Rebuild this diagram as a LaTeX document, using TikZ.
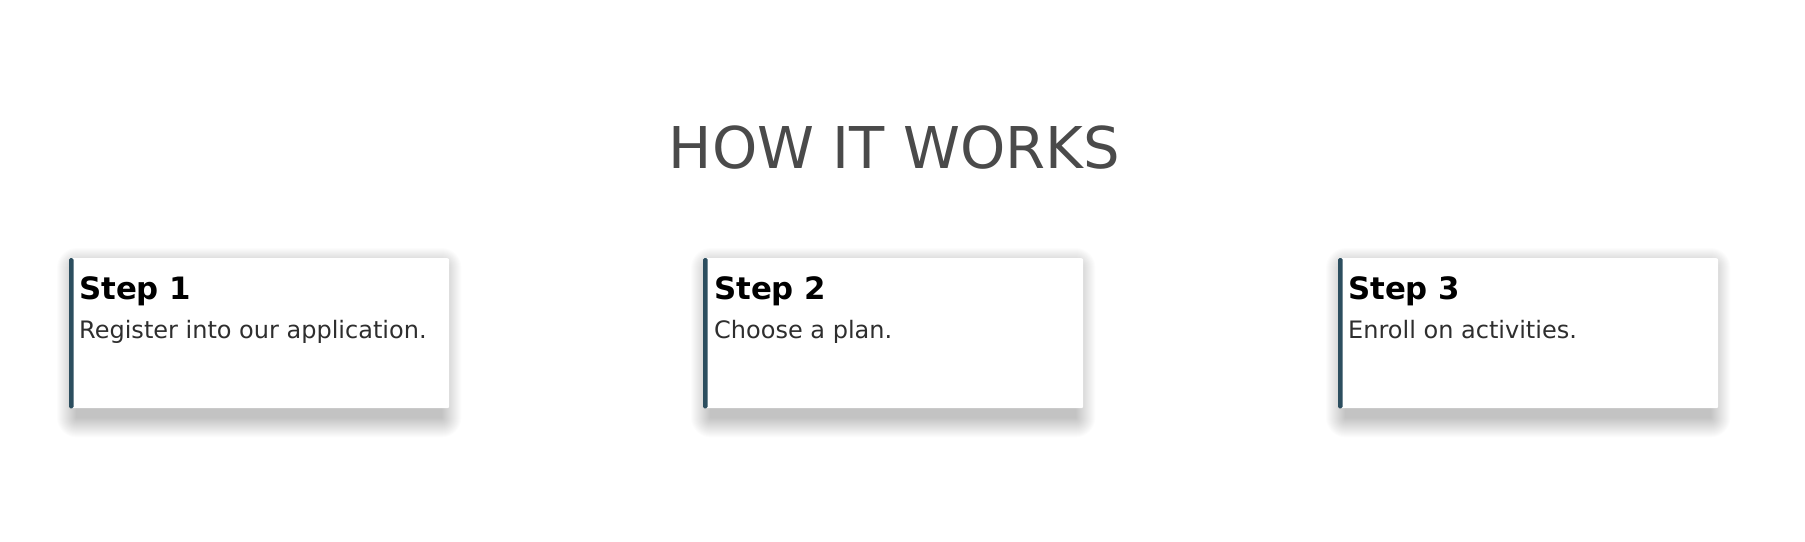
\documentclass[tikz,border=0pt]{standalone}
\usepackage{fontspec}
\setmainfont{DejaVu Sans}
\usetikzlibrary{calc, backgrounds}
\definecolor{cardbar}{HTML}{2C4E5F}
\definecolor{headgrey}{HTML}{4A4A4A}
\definecolor{bodygrey}{HTML}{2E2E2E}

\begin{document}
\begin{tikzpicture}[x=1pt, y=-1pt]
				\useasboundingbox (0,0) rectangle (1805,541);
				\begin{scope}[card/.style={fill=white,rectangle,rounded corners=2pt,minimum width=380pt,minimum height=150pt,inner sep=0,anchor=north west},
					steptitle/.style={inner sep=0,anchor=base west,font=\fontsize{30.8}{32}\selectfont\bfseries},
					steptext/.style={inner sep=0,anchor=base west,text=bodygrey,font=\fontsize{24}{26}\selectfont}]
				\node[inner sep=0, anchor=base, text=headgrey, font=\fontsize{57.6}{60}\selectfont] (title) at (894.5,168) {HOW IT WORKS};
				
				\node[card] (card1) at (69,258) {};
				\node[card] (card2) at (703,258) {};
				\node[card] (card3) at (1338,258) {};
				
				% white page, then soft shadows under the cards
				\begin{scope}[on background layer]
				\fill[white] (0,0) rectangle (1805,541);
				\foreach \c in {card1,card2,card3}
				\foreach \k in {1,...,20}
				\fill[black, opacity=0.013, rounded corners=\k pt] ($(\c.north west)+(8-\k,10-\k)$) rectangle ($(\c.south east)+(\k-8,9+\k)$);
				\end{scope}
				
				\fill[cardbar, rounded corners=1.5pt] (card1.north west) rectangle ($(card1.south west)+(4.5,0)$);
				\fill[cardbar, rounded corners=1.5pt] (card2.north west) rectangle ($(card2.south west)+(4.5,0)$);
				\fill[cardbar, rounded corners=1.5pt] (card3.north west) rectangle ($(card3.south west)+(4.5,0)$);
				
				\node[steptitle] (step1) at ($(card1.north west)+(10,41)$) {Step 1};
				\node[steptext] (text1) at ($(card1.north west)+(10,80)$) {Register into our application.};
				
				\node[steptitle] (step2) at ($(card2.north west)+(11,41)$) {Step 2};
				\node[steptext] (text2) at ($(card2.north west)+(11,80)$) {Choose a plan.};
				
				\node[steptitle] (step3) at ($(card3.north west)+(10,41)$) {Step 3};
				\node[steptext] (text3) at ($(card3.north west)+(10,80)$) {Enroll on activities.};
				\end{scope}
\end{tikzpicture}
\end{document}
